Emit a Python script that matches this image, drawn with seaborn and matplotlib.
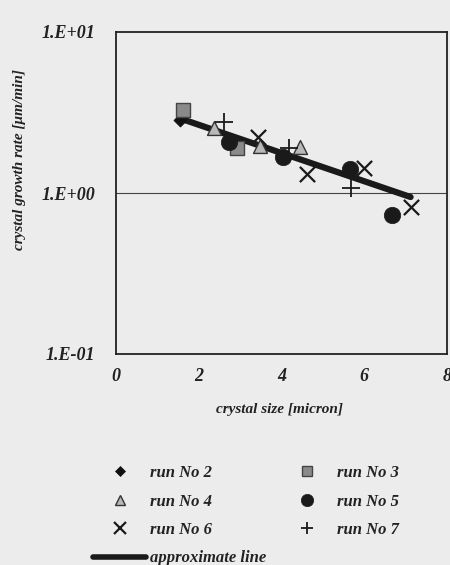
import numpy as np
import pandas as pd
import matplotlib
matplotlib.use("Agg")
import matplotlib.pyplot as plt
import seaborn as sns
from matplotlib.lines import Line2D

# ---- data ----
run2_x = [1.54]
run2_y = [2.83]
run3_x = [1.63, 2.93]
run3_y = [3.27, 1.90]
run4_x = [2.38, 3.49, 4.45]
run4_y = [2.53, 1.95, 1.93]
run5_x = [2.74, 4.04, 5.65, 6.66]
run5_y = [2.07, 1.67, 1.41, 0.73]
run6_x = [3.44, 4.62, 5.99, 7.12]
run6_y = [2.22, 1.31, 1.43, 0.82]
run7_x = [2.60, 4.18, 5.67]
run7_y = [2.75, 1.90, 1.07]
line_x = [1.54, 7.12]
line_y = [2.91, 0.944]

x_ticks = [0, 2, 4, 6, 8]
y_ticks = [0.1, 1.0, 10.0]
y_tick_labels = ["1.E-01", "1.E+00", "1.E+01"]

runs = {
    "run No 2": (run2_x, run2_y),
    "run No 3": (run3_x, run3_y),
    "run No 4": (run4_x, run4_y),
    "run No 5": (run5_x, run5_y),
    "run No 6": (run6_x, run6_y),
    "run No 7": (run7_x, run7_y),
}
frames = [pd.DataFrame({"x": xs, "y": ys, "run": name}) for name, (xs, ys) in runs.items()]
df = pd.concat(frames, ignore_index=True)
line_df = pd.DataFrame({"x": line_x, "y": line_y})

# ---- style ----
sns.set_style("white")
bg = "#ececec"
plt.rcParams["font.family"] = ["Liberation Serif", "DejaVu Serif"]
plt.rcParams["font.weight"] = "bold"
plt.rcParams["font.style"] = "italic"

styles = {
    "run No 2": dict(marker="D", s=45, color="#111111", edgecolor="#111111", linewidth=0.5),
    "run No 3": dict(marker="s", s=100, color="#8a8a8a", edgecolor="#444444", linewidth=1.0),
    "run No 4": dict(marker="^", s=100, color="#b8b8b8", edgecolor="#333333", linewidth=1.0),
    "run No 5": dict(marker="o", s=140, color="#1a1a1a", edgecolor="#1a1a1a", linewidth=0.5),
    "run No 6": dict(marker="x", s=120, color="#1a1a1a", linewidth=1.6),
    "run No 7": dict(marker="+", s=150, color="#1a1a1a", linewidth=1.3),
}

fig = plt.figure(figsize=(4.5, 5.65), dpi=100, facecolor=bg)
ax = fig.add_axes([116 / 450, 1 - 354 / 565, (447 - 116) / 450, (354 - 32) / 565])
ax.set_facecolor(bg)

# grid line at 1.0
ax.axhline(1.0, color="#444444", lw=0.8, zorder=1)

sns.lineplot(data=line_df, x="x", y="y", ax=ax, color="#1a1a1a", lw=4.5, zorder=2, legend=False)

for name in runs:
    sub = df[df["run"] == name]
    st = dict(styles[name])
    sns.scatterplot(data=sub, x="x", y="y", ax=ax, zorder=3, legend=False, **st)

ax.set_yscale("log")
ax.set_xlim(0, 8)
ax.set_ylim(0.1, 10)
ax.set_xticks(x_ticks)
ax.set_xticklabels([str(t) for t in x_ticks])
ax.set_yticks(y_ticks)
ax.set_yticklabels(y_tick_labels)
ax.yaxis.set_minor_locator(matplotlib.ticker.NullLocator())
ax.tick_params(axis="x", direction="in", length=3, width=0.8, color="#333333",
               labelsize=13, pad=10)
ax.tick_params(axis="y", length=0, labelsize=13, pad=15)
for lab in ax.get_xticklabels() + ax.get_yticklabels():
    lab.set_fontweight("bold")
    lab.set_fontstyle("italic")
    lab.set_color("#222222")

for sp in ax.spines.values():
    sp.set_color("#222222")
    sp.set_linewidth(1.3)

ax.set_xlabel("crystal size [micron]", fontsize=11, fontweight="bold", fontstyle="italic",
              color="#222222")
ax.xaxis.set_label_coords((280 - 116) / 331, -(403 - 354) / 322)
ax.set_ylabel("crystal growth rate [μm/min]", fontsize=11, fontweight="bold", fontstyle="italic",
              color="#222222")
ax.yaxis.set_label_coords((26 - 116) / 331, (354 - 160) / 322)

# ---- legend ----
def handle(name):
    st = styles[name]
    mk = st["marker"]
    filled = mk not in ("x", "+")
    return Line2D([], [], ls="none", marker=mk,
                  markersize=np.sqrt(st["s"]) * 0.75,
                  markerfacecolor=st["color"] if filled else "none",
                  markeredgecolor=st.get("edgecolor", st["color"]),
                  markeredgewidth=st.get("linewidth", 1.0))

line_h = Line2D([], [], color="#1a1a1a", lw=4)
handles = [handle("run No 2"), handle("run No 4"), handle("run No 6"), line_h,
           handle("run No 3"), handle("run No 5"), handle("run No 7")]
labels = ["run No 2", "run No 4", "run No 6", "approximate line",
          "run No 3", "run No 5", "run No 7"]
leg = fig.legend(handles, labels, ncol=2, loc="upper left",
                 bbox_to_anchor=(93 / 450, 1 - 465 / 565),
                 frameon=False, borderpad=0, borderaxespad=0,
                 handlelength=3.2, handletextpad=0.2, labelspacing=0.75,
                 columnspacing=0.85,
                 prop=dict(family="Liberation Serif", weight="bold", style="italic", size=12))
for t in leg.get_texts():
    t.set_color("#222222")

fig.savefig("out.png", dpi=100, facecolor=bg)
